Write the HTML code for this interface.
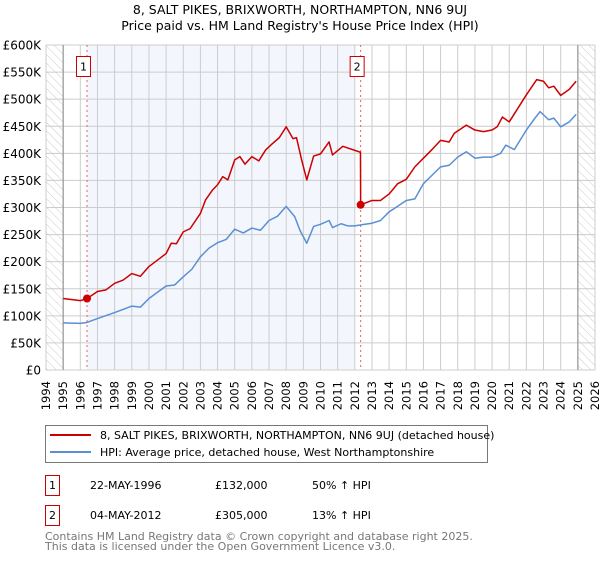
<!DOCTYPE html>
<html><head><meta charset="utf-8"><style>
body{margin:0;background:#fff;font-family:"Liberation Sans","DejaVu Sans",sans-serif}
svg text{font-family:"DejaVu Sans","Liberation Sans",sans-serif}
</style></head><body>
<svg width="600" height="560" viewBox="0 0 600 560">
<defs><pattern id="hatch" width="6" height="6" patternUnits="userSpaceOnUse" patternTransform="rotate(-45)"><line x1="0" y1="0" x2="0" y2="6" stroke="#ccc" stroke-width="1"/></pattern></defs>
<text x="300" y="14" text-anchor="middle" font-size="12.5" fill="#000">8, SALT PIKES, BRIXWORTH, NORTHAMPTON, NN6 9UJ</text>
<text x="300" y="30" text-anchor="middle" font-size="12.5" fill="#000">Price paid vs. HM Land Registry's House Price Index (HPI)</text>
<g id="plot"></g>
<g>
<rect x="45.5" y="425.5" width="442" height="37" fill="#fff" stroke="#777"/>
<line x1="50" y1="435" x2="91" y2="435" stroke="#cc0000" stroke-width="2"/>
<text x="100" y="439" font-size="11">8, SALT PIKES, BRIXWORTH, NORTHAMPTON, NN6 9UJ (detached house)</text>
<line x1="50" y1="452" x2="91" y2="452" stroke="#5b8fd4" stroke-width="2"/>
<text x="100" y="456" font-size="11">HPI: Average price, detached house, West Northamptonshire</text>
</g>
<g font-size="11">
<rect x="45.5" y="475.5" width="14" height="20" fill="none" stroke="#cc0000"/><text x="52.5" y="489" text-anchor="middle">1</text>
<text x="90" y="489">22-MAY-1996</text><text x="215" y="489">£132,000</text><text x="312" y="489">50% ↑ HPI</text>
<rect x="45.5" y="505.5" width="14" height="20" fill="none" stroke="#cc0000"/><text x="52.5" y="519" text-anchor="middle">2</text>
<text x="90" y="519">04-MAY-2012</text><text x="215" y="519">£305,000</text><text x="312" y="519">13% ↑ HPI</text>
</g>
<text x="45" y="540" font-size="11" fill="#777">Contains HM Land Registry data © Crown copyright and database right 2025.</text>
<text x="45" y="550" font-size="11" fill="#777">This data is licensed under the Open Government Licence v3.0.</text>
</svg>
<script>
const hpiYears=[1995,1996,1996.4,1997,1998,1999,1999.5,2000,2001,2001.5,2002,2002.5,2003,2003.5,2004,2004.5,2005,2005.5,2006,2006.5,2007,2007.5,2008,2008.5,2008.8,2009.2,2009.6,2010,2010.5,2010.7,2011.2,2011.6,2012,2012.35,2013,2013.5,2014,2015,2015.5,2016,2017,2017.5,2018,2018.5,2019,2019.5,2020,2020.5,2020.8,2021.3,2022,2022.5,2022.8,2023.3,2023.6,2024,2024.5,2024.9];
const hpiValues=[87,86,88,95,106,118,116,132,155,157,172,186,209,225,235,241,260,253,262,258,276,284,302,283,258,234,265,269,276,263,270,266,266,268,271,276,292,313,316,344,375,378,393,403,391,393,393,400,415,407,443,465,477,462,465,449,458,472];
const priceYears=[1995,1996,1996.4,1997,1997.5,1998,1998.5,1999,1999.5,2000,2000.5,2001,2001.3,2001.6,2002,2002.4,2003,2003.3,2003.7,2004,2004.3,2004.6,2005,2005.3,2005.6,2006,2006.4,2006.8,2007.2,2007.6,2008,2008.4,2008.6,2008.9,2009.2,2009.6,2010,2010.5,2010.7,2011.3,2012.33,2012.34,2013,2013.5,2014,2014.5,2015,2015.5,2016,2016.5,2017,2017.5,2017.8,2018.5,2019,2019.5,2020,2020.3,2020.6,2021,2022,2022.6,2023,2023.3,2023.6,2024,2024.5,2024.9];
const priceValues=[132,128,132,145,148,160,166,178,173,191,203,215,234,233,255,261,289,314,332,342,357,351,388,394,380,394,386,406,418,429,449,427,429,388,351,395,399,421,397,413,402,305,313,313,325,344,352,375,391,407,424,421,437,452,443,440,443,449,467,458,508,536,533,521,524,507,518,533];
const saleYears=[1996.39,2012.34];
const saleValues=[132,305];
const yTicks=[0,50,100,150,200,250,300,350,400,450,500,550,600];
const xTicks=[1994,1995,1996,1997,1998,1999,2000,2001,2002,2003,2004,2005,2006,2007,2008,2009,2010,2011,2012,2013,2014,2015,2016,2017,2018,2019,2020,2021,2022,2023,2024,2025,2026];
const X0=46,X1=595,Y0=370,Y1=45;
const x=yr=>X0+(yr-1994)*(X1-X0)/32;
const y=v=>Y0-v*(Y0-Y1)/600;
const NS="http://www.w3.org/2000/svg";
const g=document.getElementById('plot');
function mk(t,a){const e=document.createElementNS(NS,t);for(const k in a)e.setAttribute(k,a[k]);g.appendChild(e);return e;}
let e;
e=mk('rect',{x:x(saleYears[0]),y:Y1,width:x(2012)-x(saleYears[0]),height:Y0-Y1,fill:'#eef3fc',opacity:0.7});


e=mk('rect',{x:X0,y:Y1,width:x(1995)-X0,height:Y0-Y1,fill:'url(#hatch)'});


e=mk('rect',{x:x(2025),y:Y1,width:X1-x(2025),height:Y0-Y1,fill:'url(#hatch)'});


xTicks.forEach(t=>{
 e=mk('line',{x1:x(t),x2:x(t),y1:Y1,y2:Y0,stroke:'#ccc','stroke-width':1});
 
 
 e=mk('text',{x:0,y:0,'font-size':11.5,'text-anchor':'end',transform:`translate(${x(t)+4},381) rotate(-90)`});
 e.textContent=t;
 
 
});
yTicks.forEach(t=>{
 e=mk('line',{x1:X0,x2:X1,y1:y(t),y2:y(t),stroke:'#ccc','stroke-width':1});
 
 
 e=mk('text',{x:41,y:y(t)+4.5,'font-size':12,'text-anchor':'end'});
 e.textContent=t===0?'£0':'£'+t+'K';
 
 
});
e=mk('line',{x1:x(1995),x2:x(1995),y1:Y1,y2:Y0,stroke:'#888','stroke-width':1});


e=mk('line',{x1:x(2025),x2:x(2025),y1:Y1,y2:Y0,stroke:'#888','stroke-width':1});


saleYears.forEach((s,i)=>{
 e=mk('line',{x1:x(s),x2:x(s),y1:Y1,y2:Y0,stroke:'#e06666','stroke-width':1,'stroke-dasharray':'2,3'});
 
 
 e=mk('rect',{x:x(s)-10.5,y:56.5,width:14,height:20,fill:'#fff',stroke:'#cc0000'});
 
 
 e=mk('text',{x:x(s)-3.5,y:70.5,'font-size':11,'text-anchor':'middle'});
 e.textContent=String(i+1);
 
 
});
e=mk('polyline',{points:hpiYears.map((t,i)=>x(t)+','+y(hpiValues[i])).join(' '),fill:'none',stroke:'#5b8fd4','stroke-width':1.5,'stroke-linejoin':'round'});


e=mk('polyline',{points:priceYears.map((t,i)=>x(t)+','+y(priceValues[i])).join(' '),fill:'none',stroke:'#cc0000','stroke-width':1.5,'stroke-linejoin':'round'});


saleYears.forEach((s,i)=>{
 e=mk('circle',{cx:x(s),cy:y(saleValues[i]),r:4,fill:'#cc0000'});
 
 
});
</script>
</body></html>
